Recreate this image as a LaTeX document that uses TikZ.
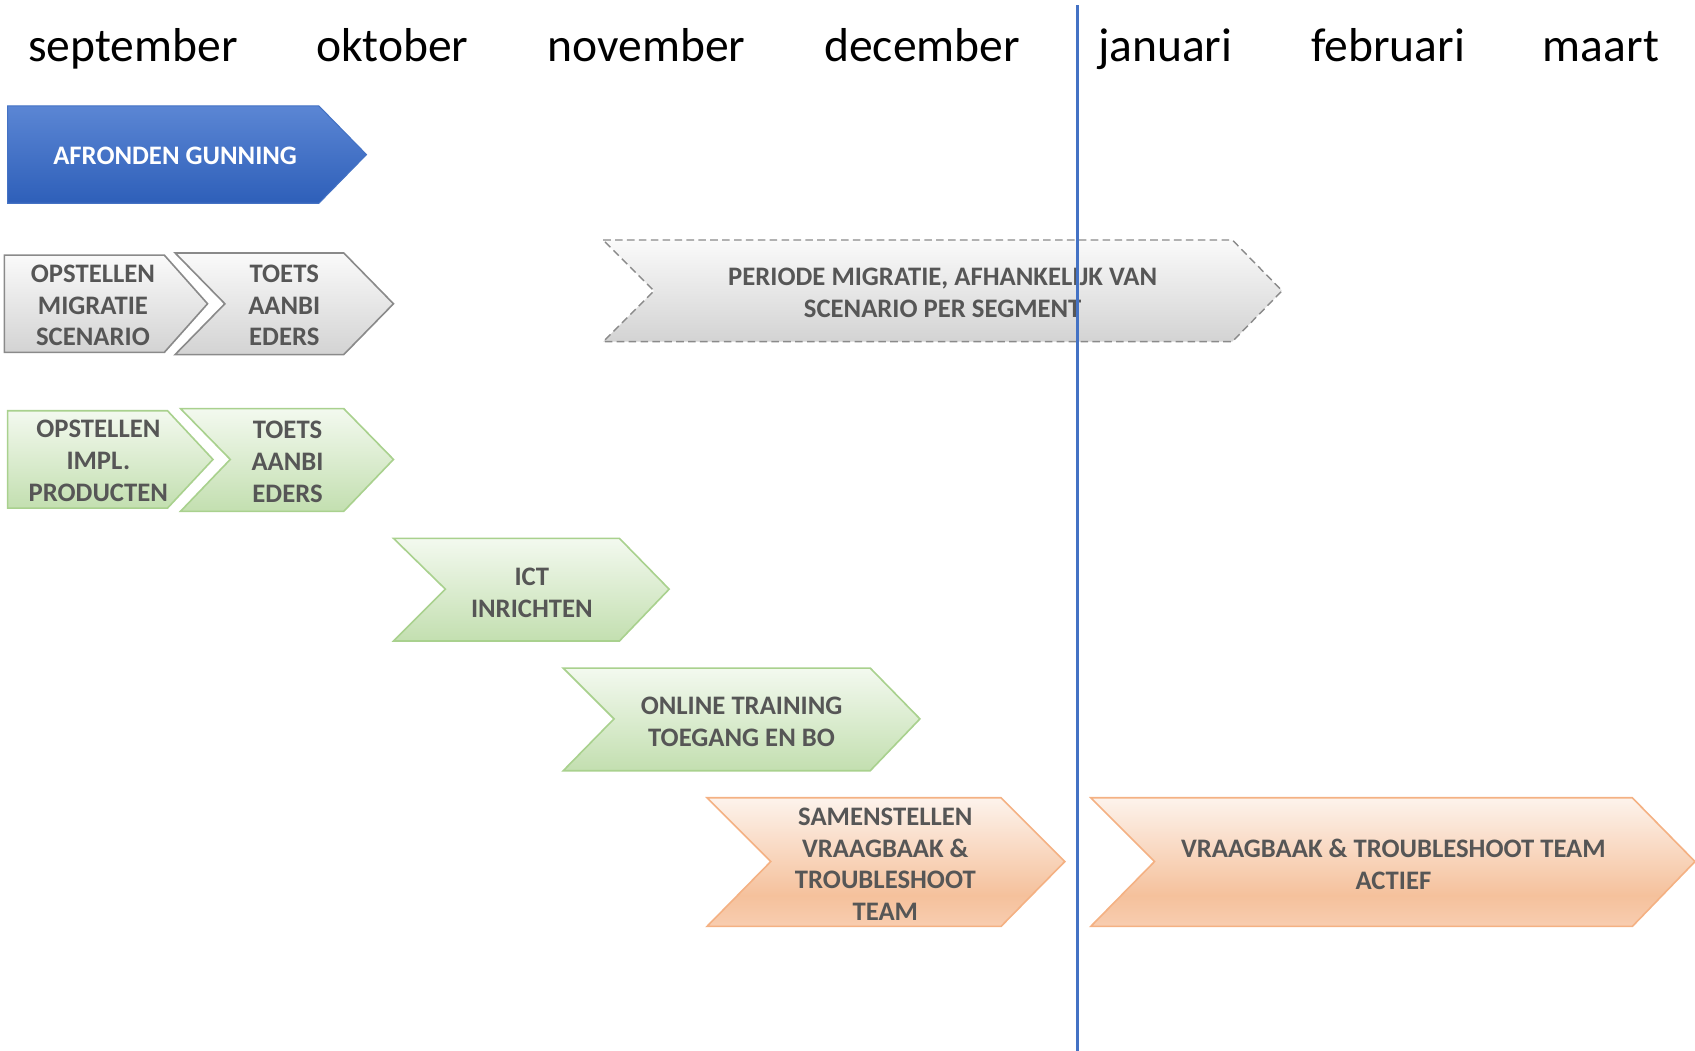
\documentclass[tikz,border=0pt]{standalone}
\usepackage{fontspec}
\setmainfont{Carlito}
\definecolor{txt}{HTML}{565656}
\definecolor{blueT}{HTML}{5B86D4}
\definecolor{blueBot}{HTML}{2E5FB9}
\definecolor{blueB}{HTML}{4472C4}
\definecolor{greyT}{HTML}{FAFAFA}
\definecolor{greyBot}{HTML}{D3D3D3}
\definecolor{greyB}{HTML}{8A8A8A}
\definecolor{greenT}{HTML}{F3F9EF}
\definecolor{greenBot}{HTML}{C3DFB0}
\definecolor{greenB}{HTML}{A9D18E}
\definecolor{orT}{HTML}{FDF3EC}
\definecolor{orM}{HTML}{F5C19C}
\definecolor{orBot}{HTML}{F8CDB0}
\definecolor{orB}{HTML}{F4B183}
\definecolor{vline}{HTML}{4472C4}
\pgfdeclareverticalshading{orsh}{100bp}{color(0bp)=(orBot); color(25bp)=(orBot); color(37bp)=(orM); color(75bp)=(orT); color(100bp)=(orT)}
\tikzset{
  bluebox/.style={draw=blueB, line width=1pt, top color=blueT, bottom color=blueBot},
  greybox/.style={draw=greyB, line width=1.5pt, top color=greyT, bottom color=greyBot},
  dashbox/.style={draw=greyB, line width=1.3pt, dash pattern=on 7pt off 4pt, top color=greyT, bottom color=greyBot},
  greenbox/.style={draw=greenB, line width=1.5pt, top color=greenT, bottom color=greenBot},
  orbox/.style={draw=orB, line width=1.5pt, shading=orsh},
  month/.style={anchor=base, inner sep=0pt, font=\fontsize{44}{53}\selectfont, text=black},
  lbl/.style={align=center, inner sep=0pt, text=txt, font=\fontsize{24.7}{29.5}\selectfont\bfseries},
  wlbl/.style={lbl, text=white},
}
\begin{document}
\begin{tikzpicture}[x=1pt,y=-1pt]
\useasboundingbox (0,0) rectangle (1568,972);
% months
\node[month] (m1) at (123,57) {september};
\node[month] (m2) at (363,57) {oktober};
\node[month] (m3) at (598,57) {november};
\node[month] (m4) at (853,57) {december};
\node[month] (m5) at (1078,57) {januari};
\node[month] (m6) at (1284,57) {februari};
\node[month] (m7) at (1481,57) {maart};
% blue pentagon
\path[bluebox] (7,98) -- (295,98) -- (339,143) -- (295,188) -- (7,188) -- cycle;
\node[wlbl] (t1) at (162,144) {AFRONDEN GUNNING};
% grey row
\path[greybox] (4,236) -- (152,236) -- (192,281) -- (152,326) -- (4,326) -- cycle;
\node[lbl] (t2) at (86,282.5) {OPSTELLEN\\MIGRATIE\\SCENARIO};
\path[greybox] (162,234) -- (318,234) -- (364,281) -- (318,328) -- (162,328) -- (208,281) -- cycle;
\node[lbl] (t3) at (263,282.5) {TOETS\\AANBI\\EDERS};
% dashed grey
\path[dashbox] (558,222) -- (1140,222) -- (1186,269) -- (1140,316) -- (558,316) -- (605,269) -- cycle;
\node[lbl] (t4) at (872,270.5) {PERIODE MIGRATIE, AFHANKELIJK VAN\\SCENARIO PER SEGMENT};
% green row
\path[greenbox] (7,380) -- (155,380) -- (197,425) -- (155,470) -- (7,470) -- cycle;
\node[lbl] (t5) at (91,426.5) {OPSTELLEN\\IMPL.\\PRODUCTEN};
\path[greenbox] (167,378) -- (318,378) -- (364,425) -- (318,473) -- (167,473) -- (213,425) -- cycle;
\node[lbl] (t6) at (266,427.5) {TOETS\\AANBI\\EDERS};
% ICT
\path[greenbox] (364,498) -- (573,498) -- (619,545) -- (573,593) -- (364,593) -- (412,545) -- cycle;
\node[lbl] (t7) at (492,548.5) {ICT\\INRICHTEN};
% online training
\path[greenbox] (521,618) -- (805,618) -- (851,665) -- (805,713) -- (521,713) -- (568,665) -- cycle;
\node[lbl] (t8) at (686,667.5) {ONLINE TRAINING\\TOEGANG EN BO};
% orange
\path[orbox] (654,738) -- (926,738) -- (985,797) -- (926,857) -- (654,857) -- (713,797) -- cycle;
\node[lbl] (t9) at (819,799.5) {SAMENSTELLEN\\VRAAGBAAK \&\\TROUBLESHOOT\\TEAM};
\path[orbox] (1009,738) -- (1510,738) -- (1568,797) -- (1510,857) -- (1009,857) -- (1068,797) -- cycle;
\node[lbl] (t10) at (1289,799.5) {VRAAGBAAK \& TROUBLESHOOT TEAM\\ACTIEF};
% today line
\coordinate (lt) at (997,5);
\coordinate (lb) at (997,972);
\draw[vline, line width=2.5pt] (lt) -- (lb);
\end{tikzpicture}
\end{document}
